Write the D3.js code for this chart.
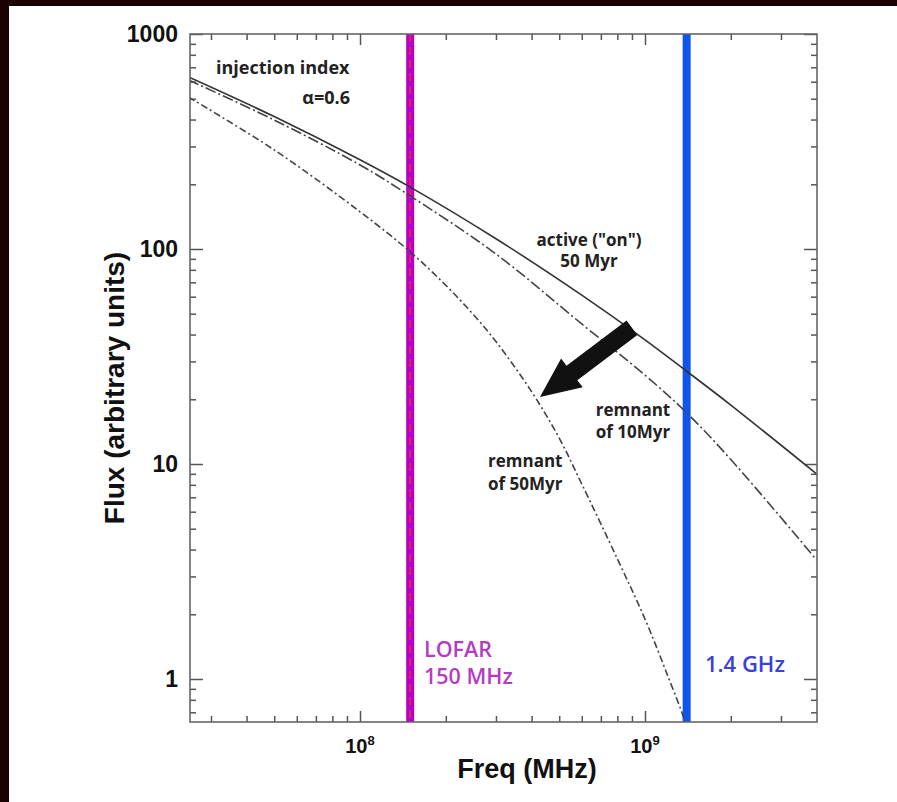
<!DOCTYPE html>
<html>
<head>
<meta charset="utf-8">
<script src="https://cdn.jsdelivr.net/npm/d3@7"></script>
<style>
  body { margin: 0; background: #1a0202; }
  svg { display: block; }
</style>
</head>
<body>
<svg id="chart" width="897" height="802"></svg>
<script>
// frequencies (Hz, the axis says MHz) and fluxes
var freqActive = [2.5e7, 5e7, 1e8, 1.5e8, 3e8, 6e8, 1e9, 1.4e9, 2e9, 4e9];
var fluxActive = [631, 413, 260, 194, 111.6, 61, 37.8, 27.0, 18.8, 9.0];

var freqRem10 = [2.5e7, 5e7, 1e8, 1.5e8, 3e8, 6e8, 1e9, 1.4e9, 2e9, 4e9];
var fluxRem10 = [611, 398, 246, 176.5, 94.8, 44.8, 25.9, 17.3, 10.5, 3.58];

var freqRem50 = [2.5e7, 5e7, 1e8, 1.5e8, 2e8, 2.5e8, 3e8, 4e8, 5e8, 6e8, 8e8, 1e9, 1.2e9, 1.37e9, 1.4e9];
var fluxRem50 = [509, 289, 149, 97, 67.8, 49.5, 37.1, 21.7, 13.2, 8.07, 3.62, 1.90, 1.04, 0.654, 0.579];

var bandFreqs = [1.5e8, 1.4e9];

var yMajor = [1, 10, 100, 1000];
var xMajor = [1e8, 1e9];
var xMajorExp = ["8", "9"];

// arrow from active curve towards the old remnant (freq, flux)
var arrowFrom = [9.0e8, 43];
var arrowTo = [4.28e8, 20.5];

var margin = { top: 34, right: 80, bottom: 80, left: 190 },
	width = 897 - margin.left - margin.right,
	height = 802 - margin.top - margin.bottom;

var svg = d3.select("#chart");

// white slide area
svg.append("rect").attr("width", 897).attr("height", 802).attr("fill", "#1a0202");
svg.append("rect").attr("x", 9).attr("y", 6).attr("width", 888).attr("height", 796).attr("fill", "#ffffff");

var g = svg.append("g").attr("transform", "translate(" + margin.left + "," + margin.top + ")");

var x = d3.scaleLog().domain([Math.pow(10, 7.4035), Math.pow(10, 9.6035)]).range([0, width]);
var y = d3.scaleLog().domain([Math.pow(10, -0.2), 1000]).range([height, 0]);

// minor tick values
var xMinor = [], yMinor = [];
[1e7, 1e8, 1e9].forEach(function (d) {
	for (var k = 2; k <= 9; k++) {
		var v = d * k;
		if (v > x.domain()[0] && v < x.domain()[1] * 0.99) xMinor.push(v);
	}
});
[0.1, 1, 10, 100].forEach(function (d) {
	for (var k = 2; k <= 9; k++) {
		var v = d * k;
		if (v > y.domain()[0] && v < 1000) yMinor.push(v);
	}
});

function styleAxis(sel) {
	sel.select(".domain").remove();
	sel.selectAll("line").attr("stroke", "#555").attr("stroke-width", 1.5);
}

// inward ticks on all four sides
g.append("g").attr("transform", "translate(0," + height + ")")
	.call(d3.axisBottom(x).tickValues(xMinor).tickSize(-6).tickFormat("")).call(styleAxis);
g.append("g").attr("transform", "translate(0," + height + ")")
	.call(d3.axisBottom(x).tickValues(xMajor).tickSize(-11).tickFormat("")).call(styleAxis);
g.append("g")
	.call(d3.axisTop(x).tickValues(xMinor).tickSize(-6).tickFormat("")).call(styleAxis);
g.append("g")
	.call(d3.axisTop(x).tickValues(xMajor).tickSize(-11).tickFormat("")).call(styleAxis);

g.append("g")
	.call(d3.axisLeft(y).tickValues(yMinor).tickSize(-6).tickFormat("")).call(styleAxis);
var yAxis = g.append("g")
	.call(d3.axisLeft(y).tickValues(yMajor).tickSize(-13).tickPadding(12).tickFormat(d3.format("d")))
	.call(styleAxis);
yAxis.selectAll("text")
	.attr("fill", "#111")
	.style("font-family", "'Liberation Sans', Arial, sans-serif")
	.style("font-weight", "bold")
	.style("font-size", "23px");
g.append("g").attr("transform", "translate(" + width + ",0)")
	.call(d3.axisRight(y).tickValues(yMinor).tickSize(-6).tickFormat("")).call(styleAxis);
g.append("g").attr("transform", "translate(" + width + ",0)")
	.call(d3.axisRight(y).tickValues(yMajor).tickSize(-13).tickFormat("")).call(styleAxis);

// x tick labels 10^8, 10^9
var xl = g.append("g").selectAll("text").data(xMajor).enter().append("text")
	.attr("x", function (d) { return x(d); })
	.attr("y", height + 31)
	.attr("text-anchor", "middle")
	.attr("fill", "#111")
	.style("font-family", "'Liberation Sans', Arial, sans-serif")
	.style("font-weight", "bold")
	.style("font-size", "20px");
xl.append("tspan").text("10");
xl.append("tspan").attr("dy", -8).style("font-size", "13px").text(function (d, i) { return xMajorExp[i]; });

// clip for the curves
svg.append("defs").append("clipPath").attr("id", "plotclip")
	.append("rect").attr("width", width).attr("height", height);
var plot = g.append("g").attr("clip-path", "url(#plotclip)");

// observing bands
plot.append("line")
	.attr("x1", x(bandFreqs[0])).attr("x2", x(bandFreqs[0]))
	.attr("y1", 0).attr("y2", height)
	.attr("stroke", "#b400cc").attr("stroke-width", 8);
plot.append("line")
	.attr("x1", x(bandFreqs[0])).attr("x2", x(bandFreqs[0]))
	.attr("y1", 0).attr("y2", height)
	.attr("stroke", "#ee2050").attr("stroke-width", 2).attr("stroke-dasharray", "8,5");
plot.append("line")
	.attr("x1", x(bandFreqs[1])).attr("x2", x(bandFreqs[1]))
	.attr("y1", 0).attr("y2", height)
	.attr("stroke", "#1054ec").attr("stroke-width", 8);

var line = d3.line()
	.x(function (d) { return x(d[0]); })
	.y(function (d) { return y(d[1]); })
	.curve(d3.curveCatmullRom.alpha(0.5));

plot.append("path")
	.datum(d3.zip(freqActive, fluxActive))
	.attr("d", line)
	.attr("fill", "none").attr("stroke", "#333").attr("stroke-width", 1.6);
plot.append("path")
	.datum(d3.zip(freqRem10, fluxRem10))
	.attr("d", line)
	.attr("fill", "none").attr("stroke", "#444").attr("stroke-width", 1.6)
	.attr("stroke-dasharray", "11,3,2,3");
plot.append("path")
	.datum(d3.zip(freqRem50, fluxRem50))
	.attr("d", line)
	.attr("fill", "none").attr("stroke", "#444").attr("stroke-width", 1.6)
	.attr("stroke-dasharray", "7,3,2,3");

// frame
g.append("rect").attr("width", width).attr("height", height)
	.attr("fill", "none").attr("stroke", "#666").attr("stroke-width", 1.6);

// thick arrow
var ax0 = x(arrowFrom[0]), ay0 = y(arrowFrom[1]),
	ax1 = x(arrowTo[0]), ay1 = y(arrowTo[1]);
var dx = ax1 - ax0, dy = ay1 - ay0, len = Math.sqrt(dx * dx + dy * dy);
var ux = dx / len, uy = dy / len, px = -uy, py = ux;
var shaftW = 9, headW = 18, headL = 40;
var bx = ax1 - ux * headL, by = ay1 - uy * headL;
var pts = [
	[ax0 + px * shaftW, ay0 + py * shaftW],
	[bx + px * shaftW, by + py * shaftW],
	[bx + px * headW, by + py * headW],
	[ax1, ay1],
	[bx - px * headW, by - py * headW],
	[bx - px * shaftW, by - py * shaftW],
	[ax0 - px * shaftW, ay0 - py * shaftW]
];
g.append("polygon").attr("points", pts.map(function (p) { return p.join(","); }).join(" "))
	.attr("fill", "#111");

// annotations
function note(tx, ty, anchor, lines, size, color, weight, gap) {
	var t = svg.append("text")
		.attr("x", tx).attr("y", ty)
		.attr("text-anchor", anchor)
		.attr("fill", color)
		.style("font-family", "'Open Sans', 'DejaVu Sans', sans-serif")
		.style("font-weight", weight)
		.style("font-size", size + "px");
	lines.forEach(function (s, i) {
		t.append("tspan").attr("x", tx).attr("dy", i === 0 ? 0 : gap).text(s);
	});
}
note(216, 74, "start", ["injection index"], 18, "#222", 700, 0);
note(350, 104, "end", ["\u03b1=0.6"], 18, "#222", 700, 0);
note(589, 246, "middle", ["active (\"on\")", "50 Myr"], 17, "#222", 700, 21);
note(633, 416, "middle", ["remnant", "of 10Myr"], 17, "#222", 700, 22);
note(488, 467, "start", ["remnant", "of 50Myr"], 17, "#222", 700, 23);
note(424, 657, "start", ["LOFAR", "150 MHz"], 21.5, "#b43cc4", 600, 27);
note(705, 672, "start", ["1.4 GHz"], 22, "#3a40dc", 600, 0);

// axis titles
svg.append("text")
	.attr("x", 527).attr("y", 778)
	.attr("text-anchor", "middle")
	.attr("fill", "#111")
	.style("font-family", "'Liberation Sans', Arial, sans-serif")
	.style("font-weight", "bold")
	.style("font-size", "27px")
	.text("Freq (MHz)");
svg.append("text")
	.attr("transform", "translate(124,388) rotate(-90)")
	.attr("text-anchor", "middle")
	.attr("fill", "#111")
	.style("font-family", "'Liberation Sans', Arial, sans-serif")
	.style("font-weight", "bold")
	.style("font-size", "28px")
	.text("Flux (arbitrary units)");
</script>
</body>
</html>
